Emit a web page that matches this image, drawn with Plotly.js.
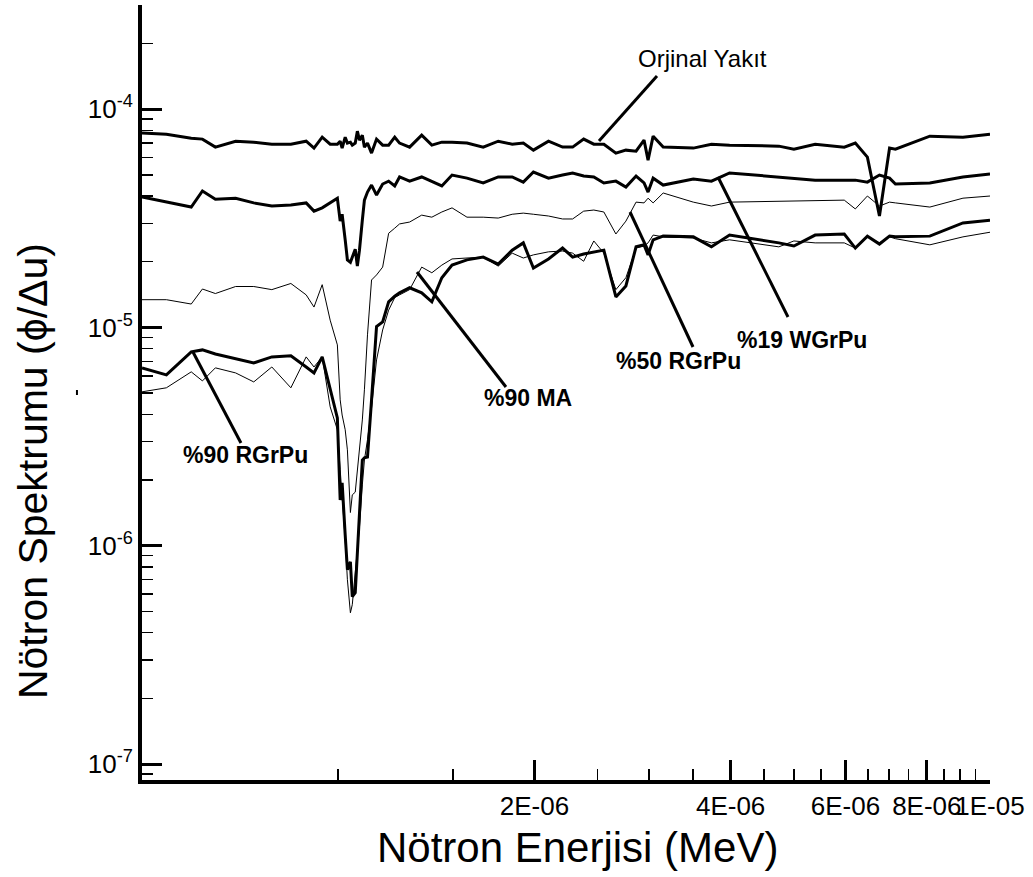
<!DOCTYPE html>
<html><head><meta charset="utf-8">
<script src="https://cdn.plot.ly/plotly-3.0.1.min.js"></script>
<style>html,body{margin:0;padding:0;background:#fff}#chart{width:1033px;height:877px}</style>
</head><body><div id="chart"></div>
<script>
// Neutron energy (MeV)
const energy = [
 5.0e-7,5.45e-7,5.95e-7,6.19e-7,6.48e-7,6.96e-7,7.42e-7,7.91e-7,8.46e-7,8.93e-7,
 9.18e-7,9.45e-7,9.72e-7,9.97e-7,1.007e-6,1.014e-6,1.025e-6,1.033e-6,1.044e-6,1.051e-6,
 1.062e-6,1.070e-6,1.078e-6,1.089e-6,1.097e-6,1.109e-6,1.125e-6,1.145e-6,1.170e-6,1.195e-6,
 1.221e-6,1.242e-6,1.287e-6,1.343e-6,1.392e-6,1.442e-6,1.495e-6,1.576e-6,1.669e-6,1.760e-6,
 1.849e-6,1.923e-6,1.993e-6,2.102e-6,2.209e-6,2.289e-6,2.380e-6,2.467e-6,2.556e-6,2.667e-6,
 2.763e-6,2.864e-6,2.946e-6,2.988e-6,3.042e-6,3.152e-6,3.506e-6,3.738e-6,3.985e-6,4.743e-6,
 5.002e-6,5.392e-6,5.976e-6,6.214e-6,6.485e-6,6.767e-6,7.013e-6,7.16e-6,8.085e-6,9.089e-6,
 1.0e-5];

const orjinalYakit = [
 7.77e-5,7.68e-5,7.36e-5,7.29e-5,6.70e-5,7.13e-5,7.06e-5,6.91e-5,6.91e-5,7.13e-5,
 6.63e-5,7.44e-5,6.91e-5,6.91e-5,7.13e-5,6.63e-5,7.44e-5,6.99e-5,7.06e-5,6.84e-5,
 6.99e-5,7.93e-5,7.21e-5,7.60e-5,6.70e-5,6.99e-5,6.29e-5,7.29e-5,6.84e-5,6.84e-5,
 7.44e-5,6.99e-5,6.70e-5,7.60e-5,6.84e-5,7.06e-5,7.06e-5,6.99e-5,6.70e-5,7.13e-5,
 6.91e-5,6.99e-5,6.49e-5,7.13e-5,6.70e-5,6.70e-5,7.29e-5,6.91e-5,6.91e-5,6.29e-5,
 6.49e-5,6.42e-5,7.21e-5,5.84e-5,7.52e-5,6.70e-5,6.63e-5,6.91e-5,6.84e-5,6.77e-5,
 6.56e-5,6.91e-5,6.70e-5,6.99e-5,6.03e-5,3.24e-5,6.63e-5,6.56e-5,7.52e-5,7.44e-5,
 7.68e-5];

const wgrpu19 = [
 3.96e-5,3.75e-5,3.56e-5,4.22e-5,3.87e-5,3.91e-5,3.72e-5,3.60e-5,3.64e-5,3.72e-5,
 3.41e-5,3.53e-5,3.72e-5,3.91e-5,3.07e-5,3.30e-5,2.52e-5,2.04e-5,1.99e-5,2.10e-5,
 2.28e-5,1.91e-5,2.26e-5,3.10e-5,3.83e-5,4.17e-5,4.49e-5,4.04e-5,4.54e-5,4.68e-5,
 4.45e-5,4.89e-5,4.68e-5,4.89e-5,4.68e-5,4.45e-5,4.99e-5,4.83e-5,4.59e-5,4.89e-5,
 4.89e-5,4.63e-5,5.15e-5,4.83e-5,4.99e-5,5.10e-5,4.94e-5,4.89e-5,4.59e-5,4.68e-5,
 4.40e-5,4.94e-5,4.59e-5,4.17e-5,4.83e-5,4.49e-5,4.78e-5,4.68e-5,5.10e-5,4.89e-5,
 4.83e-5,4.73e-5,4.73e-5,4.73e-5,4.63e-5,4.99e-5,4.83e-5,4.54e-5,4.59e-5,4.89e-5,
 5.04e-5];

const rgrpu50 = [
 1.34e-5,1.34e-5,1.28e-5,1.50e-5,1.43e-5,1.54e-5,1.54e-5,1.49e-5,1.59e-5,1.41e-5,
 1.24e-5,1.57e-5,1.08e-5,8.32e-6,4.66e-6,3.97e-6,3.40e-6,2.75e-6,1.42e-6,1.71e-6,
 1.76e-6,2.23e-6,2.75e-6,3.77e-6,5.18e-6,9.25e-6,1.65e-5,1.74e-5,1.89e-5,2.70e-5,
 2.85e-5,2.98e-5,3.04e-5,3.27e-5,3.20e-5,3.38e-5,3.53e-5,3.20e-5,3.20e-5,3.17e-5,
 3.30e-5,3.34e-5,3.30e-5,3.24e-5,3.14e-5,3.14e-5,3.41e-5,3.45e-5,3.38e-5,2.68e-5,
 3.07e-5,3.75e-5,3.72e-5,3.91e-5,3.72e-5,4.13e-5,3.75e-5,3.60e-5,3.75e-5,3.79e-5,
 3.79e-5,3.79e-5,3.83e-5,3.49e-5,4.00e-5,3.60e-5,3.75e-5,3.72e-5,3.56e-5,3.91e-5,
 4.00e-5];

const rgrpu90 = [
 6.52e-6,6.06e-6,7.73e-6,7.89e-6,7.56e-6,7.18e-6,6.88e-6,7.33e-6,7.41e-6,6.59e-6,
 6.19e-6,7.33e-6,5.18e-6,3.85e-6,1.62e-6,1.94e-6,1.12e-6,7.77e-7,8.45e-7,5.84e-7,
 6.09e-7,9.10e-7,1.39e-6,2.47e-6,2.53e-6,2.55e-6,4.66e-6,1.01e-5,1.06e-5,1.31e-5,
 1.39e-5,1.44e-5,1.52e-5,1.44e-5,1.31e-5,1.69e-5,1.93e-5,2.04e-5,2.10e-5,1.95e-5,
 2.26e-5,2.44e-5,1.87e-5,2.06e-5,2.31e-5,2.10e-5,2.17e-5,2.22e-5,2.26e-5,1.38e-5,
 1.55e-5,2.34e-5,2.39e-5,2.15e-5,2.52e-5,2.62e-5,2.60e-5,2.34e-5,2.65e-5,2.44e-5,
 2.36e-5,2.65e-5,2.68e-5,2.31e-5,2.62e-5,2.41e-5,2.62e-5,2.60e-5,2.62e-5,3.01e-5,
 3.10e-5];

const ma90 = [
 5.07e-6,5.29e-6,6.26e-6,5.69e-6,6.53e-6,6.19e-6,5.63e-6,6.59e-6,5.29e-6,7.33e-6,
 6.59e-6,7.33e-6,4.33e-6,3.40e-6,2.23e-6,1.71e-6,1.07e-6,6.99e-7,4.93e-7,5.37e-7,
 7.37e-7,9.10e-7,1.22e-6,1.90e-6,2.47e-6,3.06e-6,4.28e-6,7.10e-6,9.74e-6,1.20e-5,
 1.37e-5,1.41e-5,1.49e-5,1.89e-5,1.78e-5,1.93e-5,2.06e-5,2.08e-5,2.10e-5,1.91e-5,
 2.19e-5,2.08e-5,2.15e-5,2.22e-5,2.24e-5,2.19e-5,2.01e-5,2.49e-5,2.19e-5,1.49e-5,
 1.69e-5,2.31e-5,2.36e-5,2.44e-5,2.65e-5,2.60e-5,2.57e-5,2.44e-5,2.52e-5,2.34e-5,
 2.49e-5,2.44e-5,2.44e-5,2.31e-5,2.60e-5,2.44e-5,2.60e-5,2.55e-5,2.39e-5,2.60e-5,
 2.73e-5];

const seriesNames = ['Orjinal Yakıt','%19 WGrPu','%50 RGrPu','%90 RGrPu','%90 MA'];

// Axis ticks
const xTickVals = [2e-6,4e-6,6e-6,8e-6,1e-5];
const xTickText = ['2E-06','4E-06','6E-06','8E-06','1E-05'];
const xMinorVals = [1e-6,1.5e-6,2.5e-6,3e-6,3.5e-6,4.5e-6,5e-6,5.5e-6,6.5e-6,7e-6,7.5e-6,8.5e-6,9e-6,9.5e-6];
const yTickVals = [1e-7,1e-6,1e-5,1e-4];
const yTickText = ['10<sup>-7</sup>','10<sup>-6</sup>','10<sup>-5</sup>','10<sup>-4</sup>'];
const xRange = [5e-7, 1e-5];
const yRange = [8.45e-8, 3e-4];

const yMinorVals = [];
for (let n = -8; n <= -4; n++) {
  for (let k = 2; k <= 9; k++) {
    const v = k * Math.pow(10, n);
    if (v >= yRange[0] && v <= yRange[1] * 1.0001) yMinorVals.push(v);
  }
}

const FONT = 'Liberation Sans, Arial, Helvetica, sans-serif';

const seriesData = [orjinalYakit, wgrpu19, rgrpu50, rgrpu90, ma90];
const seriesWidth = [3, 3, 1, 3, 1];
const traces = seriesData.map((ys, i) => ({
  type: 'scatter', mode: 'lines', name: seriesNames[i],
  x: energy, y: ys,
  line: {color: '#000', width: seriesWidth[i]}
}));

function ann(text, x, y, bold, size) {
  return {xref:'paper', yref:'paper', x:x, y:y, text: bold ? '<b>'+text+'</b>' : text,
    showarrow:false, xanchor:'center', yanchor:'middle',
    font:{family:FONT, size:size, color:'#000'}};
}
function lead(x0,y0,x1,y1){
  return {type:'line', xref:'paper', yref:'paper', x0:x0,y0:y0,x1:x1,y1:y1,
    line:{color:'#000', width:3}};
}

const layout = {
  width:1033, height:877,
  margin:{l:142, r:43, t:5, b:97},
  paper_bgcolor:'#fff', plot_bgcolor:'#fff',
  showlegend:false,
  font:{family:FONT, color:'#000'},
  xaxis:{
    type:'log', range:[Math.log10(xRange[0]), Math.log10(xRange[1])],
    showline:true, linewidth:4, linecolor:'#000', mirror:false,
    showgrid:false, zeroline:false,
    ticks:'inside', ticklen:20, tickwidth:3, tickcolor:'#000',
    tickmode:'array', tickvals:xTickVals, ticktext:xTickText, tickangle:0,
    tickfont:{family:FONT, size:26, color:'#000'},
    minor:{tickmode:'array', tickvals:xMinorVals, ticks:'inside', ticklen:11, tickwidth:1.5, tickcolor:'#000', showgrid:false}
  },
  yaxis:{
    type:'log', range:[Math.log10(yRange[0]), Math.log10(yRange[1])],
    showline:true, linewidth:4, linecolor:'#000', mirror:false,
    showgrid:false, zeroline:false,
    ticks:'inside', ticklen:20, tickwidth:3, tickcolor:'#000',
    tickmode:'array', tickvals:yTickVals, ticktext:yTickText,
    tickfont:{family:FONT, size:26, color:'#000'},
    ticklabelstandoff:0,
    minor:{tickmode:'array', tickvals:yMinorVals, ticks:'inside', ticklen:11, tickwidth:1.5, tickcolor:'#000', showgrid:false}
  },
  annotations:[
    ann('Orjinal Yakıt', 0.6604, 0.9316, false, 24),
    ann('%19 WGrPu', 0.7783, 0.5677, true, 23),
    ann('%50 RGrPu', 0.6321, 0.5406, true, 23),
    ann('%90 MA', 0.4552, 0.4929, true, 23),
    ann('%90 RGrPu', 0.1215, 0.4194, true, 23),
    {xref:'paper', yref:'paper', x:-0.1285, y:0.3987, text:'Nötron Spektrumu (ϕ/Δu)', textangle:-90,
     showarrow:false, xanchor:'center', yanchor:'middle', font:{family:FONT, size:41, color:'#000'}},
    {xref:'paper', yref:'paper', x:0.513, y:-0.087, text:'Nötron Enerjisi (MeV)',
     showarrow:false, xanchor:'center', yanchor:'middle', font:{family:FONT, size:42, color:'#000'}}
  ],
  shapes:[
    lead(0.6073,0.9084,0.5389,0.8245),
    lead(0.7618,0.5974,0.6792,0.7781),
    lead(0.6498,0.5587,0.5755,0.7329),
    lead(0.4292,0.5071,0.3243,0.6555),
    lead(0.1167,0.4348,0.0601,0.5523),
    {type:'line', xref:'paper', yref:'paper', x0:-0.0767, y0:0.5032, x1:-0.0767, y1:0.4968, line:{color:'#000', width:2}}
  ]
};

Plotly.newPlot('chart', traces, layout, {staticPlot:true, displayModeBar:false});
</script></body></html>
